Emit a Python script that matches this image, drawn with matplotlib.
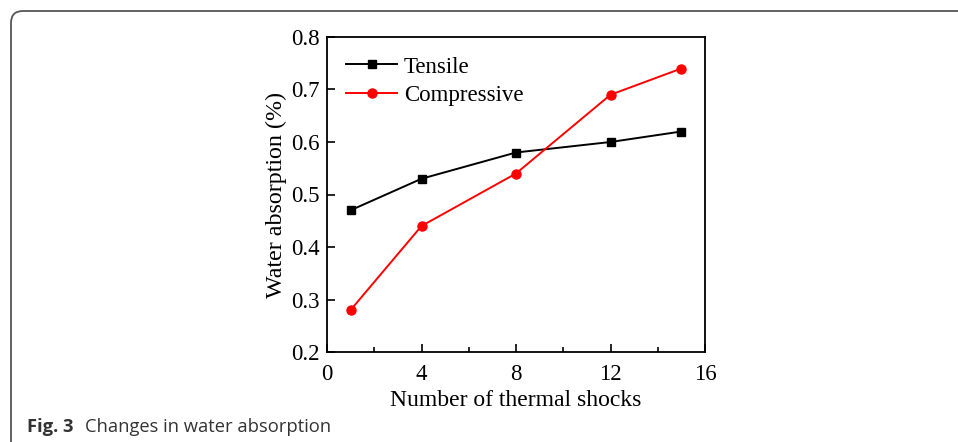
import matplotlib
matplotlib.use('Agg')
import matplotlib.pyplot as plt
from matplotlib.patches import FancyBboxPatch
from matplotlib.ticker import MultipleLocator

# Data
shocks = [1, 4, 8, 12, 15]
tensile = [0.47, 0.53, 0.58, 0.60, 0.62]
compressive = [0.28, 0.44, 0.54, 0.69, 0.74]

plt.rcParams['font.family'] = 'Liberation Serif'

W, H = 958, 442
fig = plt.figure(figsize=(W / 100, H / 100), dpi=100)

# Rounded frame around the figure panel (pixel coords)
frame = FancyBboxPatch((11, -40), 1000, 431 + 40, boxstyle='round,pad=0,rounding_size=12',
                       transform=None, fill=False, edgecolor='#555555', linewidth=1.3)
fig.patches.append(frame)

ax = fig.add_axes([327 / W, (H - 352) / H, 378 / W, 315 / H])
ax.plot(shocks, tensile, color='black', marker='s', markersize=6, linewidth=1.4, label='Tensile')
ax.plot(shocks, compressive, color='red', marker='o', markersize=6.5, linewidth=1.4, label='Compressive')

ax.set_xlim(0, 16)
ax.set_ylim(0.2, 0.8)
ax.xaxis.set_major_locator(MultipleLocator(4))
ax.xaxis.set_minor_locator(MultipleLocator(2))
ax.yaxis.set_major_locator(MultipleLocator(0.1))
ax.tick_params(axis='both', which='major', direction='in', length=6, width=1.2, labelsize=16.5,
               top=False, right=False)
ax.tick_params(axis='x', which='minor', direction='in', length=3.5, width=1.2, top=False)
ax.tick_params(axis='x', which='major', pad=9)
ax.tick_params(axis='y', which='major', pad=5)
for s in ax.spines.values():
    s.set_linewidth(1.3)

ax.set_xlabel('Number of thermal shocks', fontsize=17, labelpad=3)
ax.set_ylabel('Water absorption (%)', fontsize=17.3, labelpad=3.5)

ax.legend(loc='upper left', frameon=False, fontsize=16.5, handlelength=2.2,
          handletextpad=0.3, labelspacing=0.32, borderaxespad=0.45)

fig.text(27 / W, 10 / H, 'Fig. 3', fontsize=13.2, fontweight='bold', family='Open Sans',
         color='#333333', va='baseline')
fig.text(85 / W, 10 / H, 'Changes in water absorption', fontsize=13.2, family='Open Sans',
         color='#333333', va='baseline')

fig.savefig('out.png', dpi=100)
